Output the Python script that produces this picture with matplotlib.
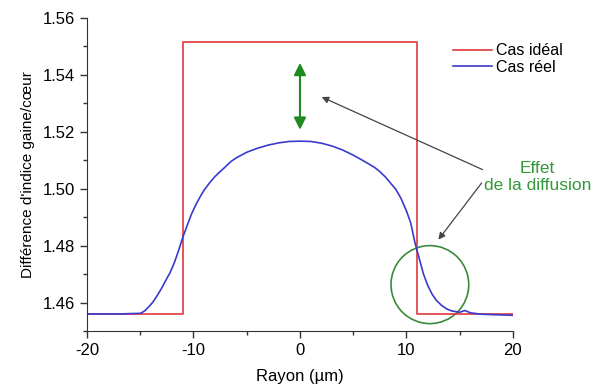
import matplotlib
matplotlib.use("Agg")
import matplotlib.pyplot as plt
from matplotlib.patches import Ellipse
from matplotlib.ticker import MultipleLocator, FormatStrFormatter

plt.rcParams['font.family'] = ['Liberation Sans', 'DejaVu Sans']
plt.rcParams['axes.unicode_minus'] = False

# Cas idéal (step profile)
ideal_x = [-20, -11, -11, 11, 11, 20]
ideal_y = [1.456, 1.456, 1.5516, 1.5516, 1.456, 1.456]

# Cas réel
reel_x = [-20, -17, -15.0, -14.6, -14.2, -13.8, -13.4, -13.0, -12.6, -12.2,
          -11.8, -11.4, -11.0, -10.6, -10.2, -9.8, -9.4, -9.0, -8.5, -8.0,
          -7.5, -7.0, -6.5, -6.0, -5.0, -4.0, -3.0, -2.0, -1.0, 0.0, 1.0,
          2.0, 3.0, 4.0, 5.0, 6.0, 7.0, 7.5, 8.0, 8.5, 9.0, 9.5, 10.0, 10.4,
          10.8, 11.2, 11.6, 12.0, 12.4, 12.8, 13.3, 13.8, 14.3, 15.0, 15.5,
          16.0, 17.0, 18.5, 20]
reel_y = [1.456, 1.456, 1.4562, 1.4570, 1.4585, 1.4602, 1.4625, 1.4650,
          1.4678, 1.4705, 1.4740, 1.4783, 1.4830, 1.4870, 1.4910, 1.4942,
          1.4970, 1.4995, 1.5020, 1.5042, 1.5060, 1.5077, 1.5095, 1.5108,
          1.5128, 1.5142, 1.5153, 1.5161, 1.5166, 1.5167, 1.5166, 1.5160,
          1.5150, 1.5136, 1.5118, 1.5097, 1.5075, 1.5060, 1.5042, 1.5020,
          1.4998, 1.4965, 1.4922, 1.4880, 1.4810, 1.4755, 1.4700, 1.4660,
          1.4630, 1.4608, 1.4590, 1.4577, 1.4570, 1.4566, 1.4572, 1.4564,
          1.4559, 1.4557, 1.4555]

fig = plt.figure(figsize=(5.94, 3.87), dpi=100)
ax = fig.add_axes([0.1465, 0.1447, 0.717, 0.809])

ax.plot(ideal_x, ideal_y, color='#e0383c', lw=1.2, label='Cas idéal')
ax.plot(reel_x, reel_y, color='#3a3acc', lw=1.2, label='Cas réel')

ax.set_xlim(-20, 20)
ax.set_ylim(1.45, 1.56)
ax.xaxis.set_major_locator(MultipleLocator(10))
ax.xaxis.set_minor_locator(MultipleLocator(5))
ax.yaxis.set_major_locator(MultipleLocator(0.02))
ax.yaxis.set_minor_locator(MultipleLocator(0.01))
ax.yaxis.set_major_formatter(FormatStrFormatter('%.2f'))
ax.tick_params(which='major', direction='out', length=5, width=1, color='#333333', labelsize=12)
ax.tick_params(which='minor', direction='out', length=3, width=1, color='#333333')
for s in ['top', 'right']:
    ax.spines[s].set_visible(False)
for s in ['left', 'bottom']:
    ax.spines[s].set_color('#333333')

ax.set_xlabel('Rayon (µm)', fontsize=12, labelpad=8)
ax.set_ylabel("Différence d'indice gaine/cœur", fontsize=11, labelpad=6)

ax.legend(loc='upper right', bbox_to_anchor=(1.15, 0.965), frameon=False,
          fontsize=11.5, handlelength=2.5, handletextpad=0.2, labelspacing=0.1)

# green double arrow
ax.annotate('', xy=(0, 1.5442), xytext=(0, 1.5207),
            arrowprops=dict(arrowstyle='<|-|>', color='#1f8a1f', lw=1.5,
                            mutation_scale=18, shrinkA=0, shrinkB=0))

# grey arrows to the annotation
ax.annotate('', xy=(2.04, 1.5322), xytext=(17.15, 1.5067),
            arrowprops=dict(arrowstyle='-|>', color='#444444', lw=0.9,
                            mutation_scale=10, shrinkA=0, shrinkB=0))
ax.annotate('', xy=(13.0, 1.4821), xytext=(17.06, 1.502),
            arrowprops=dict(arrowstyle='-|>', color='#444444', lw=0.9,
                            mutation_scale=10, shrinkA=0, shrinkB=0))

ax.text(22.3, 1.5042, 'Effet\nde la diffusion', color='#33993a', fontsize=12.5,
        ha='center', va='center', linespacing=1.15, clip_on=False)

ax.add_patch(Ellipse((12.2, 1.4663), 7.3, 0.0274, fill=False,
                     edgecolor='#3a8a3a', lw=1.2, clip_on=False))

fig.savefig('out.png', dpi=100)
